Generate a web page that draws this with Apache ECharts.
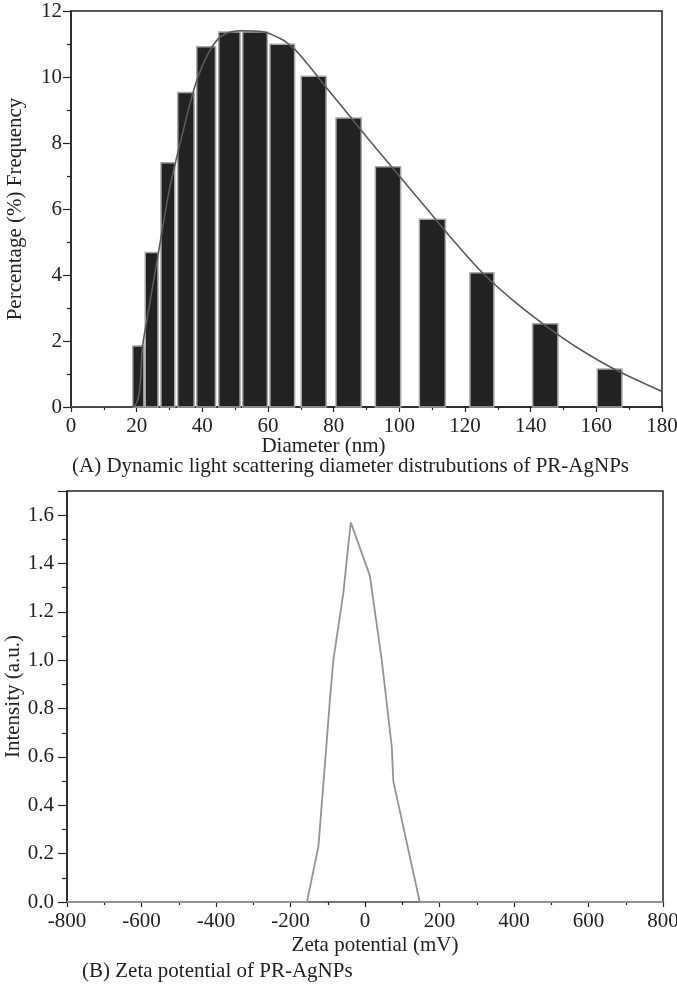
<!DOCTYPE html>
<html>
<head>
    <meta charset="utf-8">
    <style>
        html, body {
            height: 100%;
            margin: 0;
            padding: 0;
            background: #fff;
        }

        .container {
            width: 677px;
            height: 986px;
        }
    </style>
</head>
<body>
<div id="main" class="container"></div>

<script src="https://cdn.jsdelivr.net/npm/echarts@6/dist/echarts.min.js"></script>
<script type="text/javascript">
// (A) histogram bins: left edge, right edge, percentage
var binStart = [18.8, 22.6, 27.4, 32.5, 38.3, 45.0, 52.3, 60.6, 70.1, 80.7, 92.7, 106.1, 121.5, 140.6, 160.3];
var binEnd = [22.2, 26.5, 31.6, 37.5, 44.0, 51.5, 59.8, 68.1, 77.7, 88.4, 100.4, 114.0, 128.8, 148.3, 167.8];
var freq = [1.85, 4.68, 7.4, 9.53, 10.92, 11.36, 11.36, 10.99, 10.02, 8.76, 7.28, 5.69, 4.07, 2.52, 1.15];

// (A) fitted curve
var fitX = [0, 18.5, 22, 26.5, 30, 34, 38, 42, 46, 52, 58, 64, 68, 72, 78, 85, 92, 100, 108, 116, 125, 135, 145, 155, 166, 180];
var fitY = [0, 0, 2.0, 4.6, 6.6, 8.3, 9.8, 10.75, 11.25, 11.4, 11.38, 11.15, 10.85, 10.4, 9.65, 8.8, 7.95, 7.0, 6.05, 5.1, 4.1, 3.2, 2.43, 1.75, 1.12, 0.47];

// (B) zeta potential curve
var zetaX = [-800, -156, -125, -105, -94, -85, -58, -49, -38, 13, 45, 72, 76, 147, 800];
var zetaY = [0, 0, 0.23, 0.62, 0.84, 1.0, 1.28, 1.415, 1.57, 1.35, 1.0, 0.64, 0.5, 0, 0];

var serif = 'Liberation Serif';
var ink = '#222';
var fs = 21;

function zip(a, b) {
    var out = [];
    for (var i = 0; i < a.length; i++) out.push([a[i], b[i]]);
    return out;
}

var bins = [];
for (var i = 0; i < freq.length; i++) bins.push([binStart[i], binEnd[i], freq[i]]);

function axisBase(opt) {
    var base = {
        type: 'value',
        splitLine: {show: false},
        axisLine: {show: true, onZero: false, lineStyle: {color: ink, width: 1.5}},
        axisTick: {show: true, inside: false, length: 5, lineStyle: {color: ink, width: 1.2}},
        minorTick: {show: true, splitNumber: 2, length: 3, lineStyle: {color: ink, width: 1.2}},
        axisLabel: {color: ink, fontFamily: serif, fontSize: fs, margin: 9},
        nameLocation: 'middle',
        nameMoveOverlap: false,
        nameTextStyle: {color: ink, fontFamily: serif, fontSize: fs}
    };
    for (var k in opt) base[k] = opt[k];
    return base;
}

var myChart = echarts.init(document.getElementById('main'));

var option = {
    animation: false,
    backgroundColor: '#fff',
    grid: [
        {left: 71, right: 15, top: 11, height: 396, show: true, borderColor: ink, borderWidth: 1.5, outerBoundsMode: 'none'},
        {left: 67, right: 14, top: 491, height: 411, show: true, borderColor: ink, borderWidth: 1.5, outerBoundsMode: 'none'}
    ],
    xAxis: [
        axisBase({
            gridIndex: 0, min: 0, max: 180, interval: 20,
            name: 'Diameter (nm)', nameGap: 29,
            nameTextStyle: {color: ink, fontFamily: serif, fontSize: fs, padding: [0, 86, 0, 0]}
        }),
        axisBase({
            gridIndex: 1, min: -800, max: 800, interval: 200,
            axisLine: {show: true, onZero: false, lineStyle: {color: '#777', width: 2}},
            name: 'Zeta potential (mV)', nameGap: 33,
            nameTextStyle: {color: ink, fontFamily: serif, fontSize: fs, padding: [0, 0, 0, 20]}
        })
    ],
    yAxis: [
        axisBase({
            gridIndex: 0, min: 0, max: 12, interval: 2,
            axisTick: {show: true, length: 8, lineStyle: {color: ink, width: 1.2}},
            minorTick: {show: true, splitNumber: 2, length: 4, lineStyle: {color: ink, width: 1.2}},
            name: 'Percentage (%) Frequency', nameGap: 45
        }),
        axisBase({
            gridIndex: 1, min: 0, max: 1.7, interval: 0.2,
            axisTick: {show: true, length: 9, lineStyle: {color: ink, width: 1.2}},
            minorTick: {show: true, splitNumber: 2, length: 5, lineStyle: {color: ink, width: 1.2}},
            axisLabel: {
                color: ink, fontFamily: serif, fontSize: fs, margin: 13, showMaxLabel: false,
                formatter: function (v) { return v > 1.65 ? '' : v.toFixed(1); }
            },
            name: 'Intensity (a.u.)', nameGap: 43
        })
    ],
    series: [
        {
            type: 'custom',
            xAxisIndex: 0,
            yAxisIndex: 0,
            data: bins,
            encode: {x: [0, 1], y: 2},
            renderItem: function (params, api) {
                var p0 = api.coord([api.value(0), api.value(2)]);
                var p1 = api.coord([api.value(1), 0]);
                return {
                    type: 'rect',
                    shape: {x: p0[0], y: p0[1], width: p1[0] - p0[0], height: p1[1] - p0[1]},
                    style: {fill: '#222', stroke: '#a8a8a8', lineWidth: 1.5}
                };
            },
            z: 2
        },
        {
            type: 'line',
            xAxisIndex: 0,
            yAxisIndex: 0,
            data: zip(fitX, fitY),
            smooth: 0.3,
            showSymbol: false,
            lineStyle: {color: '#5a5a5a', width: 1.6},
            z: 3
        },
        {
            type: 'line',
            xAxisIndex: 1,
            yAxisIndex: 1,
            data: zip(zetaX, zetaY),
            showSymbol: false,
            lineStyle: {color: '#939393', width: 1.8},
            z: 3
        }
    ],
    graphic: [
        {
            type: 'text', left: 72, top: 456,
            style: {text: '(A) Dynamic light scattering diameter distrubutions of PR-AgNPs', fill: ink, font: fs + 'px "Liberation Serif"'}
        },
        {
            type: 'text', left: 82, top: 961,
            style: {text: '(B) Zeta potential of PR-AgNPs', fill: ink, font: fs + 'px "Liberation Serif"'}
        }
    ]
};

myChart.setOption(option);
</script>
</body>
</html>
